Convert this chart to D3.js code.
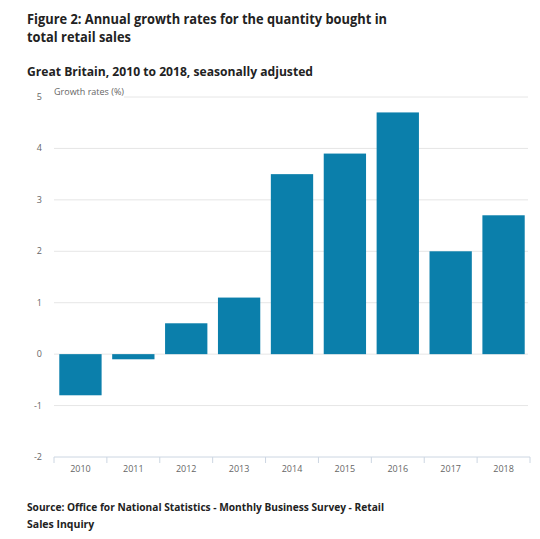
<!doctype html>
<html lang="en">
<head>
  <meta charset="utf-8">
  <title>Annual growth rates</title>
  <style>
    body { margin: 0; background: #fff; }
    svg text { font-family: "Open Sans", sans-serif; }
  </style>
</head>
<body>
<div id="mychart"></div>
<script src="https://d3js.org/d3.v7.min.js"></script>
<script>
var years = ["2010","2011","2012","2013","2014","2015","2016","2017","2018"];
var growth = [-0.8, -0.1, 0.6, 1.1, 3.5, 3.9, 4.7, 2.0, 2.7];
var yTicks = [-2, -1, 0, 1, 2, 3, 4, 5];

var width = 540, height = 539;
var svg = d3.select("#mychart").append("svg")
  .attr("width", width)
  .attr("height", height);

var x = d3.scaleBand()
  .domain(years)
  .range([54, 530])
  .paddingInner(0.2)
  .paddingOuter(0.1);

var y = d3.scaleLinear()
  .domain([-2, 5])
  .range([457, 97]);

// titles (reference type is a bit narrow, so fit to measured widths)
var heading = function(txt, xp, yp, size, len) {
  svg.append("text").attr("x", xp).attr("y", yp)
    .style("font-size", size + "px").style("font-weight", "bold").attr("fill", "#222")
    .attr("textLength", len).attr("lengthAdjust", "spacingAndGlyphs")
    .text(txt);
};
heading("Figure 2: Annual growth rates for the quantity bought in", 27, 23.5, 14, 360);
heading("total retail sales", 27, 41.5, 14, 104);
heading("Great Britain, 2010 to 2018, seasonally adjusted", 27, 76, 12.5, 286);

// gridlines
svg.append("g").selectAll("line").data(yTicks.filter(function(d) { return d !== -2; }))
  .enter().append("line")
  .attr("x1", 54).attr("x2", 528)
  .attr("y1", function(d) { return y(d); })
  .attr("y2", function(d) { return y(d); })
  .attr("stroke", "#e6e6e6");

// y labels
svg.append("g").selectAll("text").data(yTicks)
  .enter().append("text")
  .attr("x", 42)
  .attr("y", function(d) { return y(d) + 3; })
  .attr("text-anchor", "end")
  .style("font-size", "9px").attr("fill", "#666")
  .text(function(d) { return d; });

// axis title with white backing
svg.append("rect").attr("x", 52).attr("y", 87).attr("width", 72).attr("height", 12).attr("fill", "#fff");
svg.append("text").attr("x", 54).attr("y", 95)
  .style("font-size", "9px").attr("fill", "#666")
  .text("Growth rates (%)");

// bars
svg.append("g").selectAll("rect").data(growth)
  .enter().append("rect")
  .attr("x", function(d, i) { return x(years[i]); })
  .attr("width", x.bandwidth())
  .attr("y", function(d) { return y(Math.max(0, d)); })
  .attr("height", function(d) { return Math.abs(y(d) - y(0)); })
  .attr("fill", "#0b7fab");

// x axis
var xAxis = svg.append("g").attr("transform", "translate(0," + y(-2) + ")");
xAxis.append("line").attr("x1", 54).attr("x2", 530).attr("stroke", "#ccd6e2");
var step = x.step();
var edges = [54].concat(years.map(function(d) { return x(d) + x.bandwidth() + step * 0.1; }));
xAxis.selectAll("line.tick").data(edges).enter().append("line")
  .attr("class", "tick")
  .attr("x1", function(d) { return d; }).attr("x2", function(d) { return d; })
  .attr("y1", 0).attr("y2", 6).attr("stroke", "#ccd6e2");
xAxis.selectAll("text").data(years).enter().append("text")
  .attr("x", function(d) { return x(d) + x.bandwidth() / 2; })
  .attr("y", 15)
  .attr("text-anchor", "middle")
  .style("font-size", "9px").attr("fill", "#666")
  .text(function(d) { return d; });

// source
svg.append("text").attr("x", 27).attr("y", 511)
  .style("font-size", "10.5px").style("font-weight", "bold").attr("fill", "#222")
  .attr("textLength", 357).attr("lengthAdjust", "spacingAndGlyphs")
  .text("Source: Office for National Statistics - Monthly Business Survey - Retail");
svg.append("text").attr("x", 27).attr("y", 528)
  .style("font-size", "10.5px").style("font-weight", "bold").attr("fill", "#222")
  .text("Sales Inquiry");
</script>
</body>
</html>
